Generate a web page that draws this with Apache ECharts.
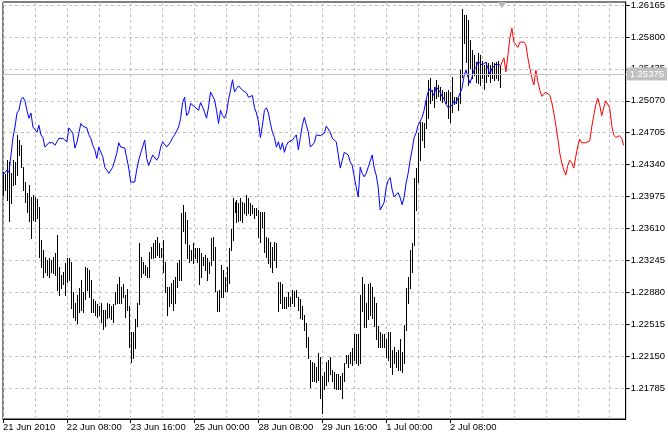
<!DOCTYPE html>
<html><head><meta charset="utf-8">
<script src="https://cdn.jsdelivr.net/npm/echarts@6/dist/echarts.min.js"></script>
<style>html,body{margin:0;padding:0;background:#fff}#c{width:668px;height:437px}</style>
</head><body><div id="c"></div>
<script>
// hourly bars (index = trading hour from 21 Jun 2010 00:00)
const barHigh = [
1.2425,1.2423,1.2439,1.2437,1.2424,1.2439,1.2437,1.2468,1.2462,1.2456,
1.2431,1.2414,1.2402,1.2411,1.2397,1.2399,1.2397,1.2395,1.2385,1.2348,
1.2336,1.2328,1.2325,1.2327,1.2325,1.2328,1.2333,1.2353,1.2317,1.2308,
1.2311,1.2322,1.2327,1.2327,1.2323,1.2288,1.2276,1.2285,1.2293,1.2302,
1.2288,1.2317,1.2316,1.2314,1.2302,1.2280,1.2278,1.2274,1.2272,1.2276,
1.2268,1.2268,1.2276,1.2274,1.2272,1.2274,1.2288,1.2297,1.2306,1.2294,
1.2297,1.2285,1.2292,1.2272,1.2242,1.2242,1.2257,1.2276,1.2344,1.2328,
1.2323,1.2319,1.2317,1.2334,1.2340,1.2344,1.2348,1.2351,1.2344,1.2339,
1.2348,1.2323,1.2294,1.2294,1.2299,1.2302,1.2306,1.2322,1.2325,1.2379,
1.2388,1.2380,1.2371,1.2342,1.2336,1.2344,1.2339,1.2339,1.2339,1.2333,
1.2328,1.2331,1.2327,1.2323,1.2350,1.2351,1.2340,1.2289,1.2291,1.2319,
1.2314,1.2306,1.2317,1.2339,1.2360,1.2396,1.2391,1.2393,1.2390,1.2396,
1.2391,1.2390,1.2399,1.2396,1.2390,1.2388,1.2384,1.2384,1.2382,1.2380,
1.2380,1.2380,1.2351,1.2350,1.2346,1.2340,1.2346,1.2344,1.2300,1.2300,
1.2297,1.2283,1.2283,1.2288,1.2283,1.2291,1.2289,1.2291,1.2283,1.2280,
1.2272,1.2262,1.2253,1.2237,1.2211,1.2208,1.2207,1.2202,1.2219,1.2214,
1.2192,1.2197,1.2208,1.2211,1.2214,1.2199,1.2197,1.2194,1.2194,1.2192,
1.2196,1.2207,1.2216,1.2216,1.2220,1.2224,1.2240,1.2240,1.2240,1.2285,
1.2305,1.2297,1.2276,1.2297,1.2299,1.2294,1.2283,1.2276,1.2249,1.2242,
1.2240,1.2240,1.2234,1.2243,1.2243,1.2222,1.2225,1.2220,1.2222,1.2234,
1.2220,1.2251,1.2293,1.2306,1.2336,1.2344,1.2419,1.2430,1.2470,1.2483,
1.2483,1.2481,1.2508,1.2531,1.2533,1.2519,1.2523,1.2531,1.2525,1.2523,
1.2519,1.2517,1.2517,1.2519,1.2517,1.2534,1.2511,1.2511,1.2510,1.2542,
1.2612,1.2605,1.2605,1.2599,1.2576,1.2565,1.2559,1.2551,1.2562,1.2559,
1.2553,1.2548,1.2551,1.2550,1.2548,1.2551,1.2550,1.2551,1.2553,1.2548
];
const barLow = [
1.2399,1.2405,1.2393,1.2369,1.2390,1.2411,1.2412,1.2422,1.2445,1.2431,
1.2405,1.2391,1.2380,1.2369,1.2350,1.2371,1.2369,1.2373,1.2328,1.2317,
1.2305,1.2311,1.2308,1.2306,1.2311,1.2310,1.2308,1.2291,1.2285,1.2293,
1.2298,1.2285,1.2300,1.2302,1.2270,1.2260,1.2256,1.2253,1.2265,1.2268,
1.2265,1.2280,1.2291,1.2282,1.2265,1.2265,1.2262,1.2260,1.2262,1.2254,
1.2246,1.2249,1.2259,1.2260,1.2257,1.2254,1.2274,1.2276,1.2276,1.2276,
1.2282,1.2260,1.2268,1.2225,1.2208,1.2213,1.2224,1.2249,1.2274,1.2306,
1.2310,1.2308,1.2306,1.2305,1.2327,1.2327,1.2328,1.2331,1.2328,1.2328,
1.2311,1.2288,1.2262,1.2272,1.2276,1.2268,1.2276,1.2294,1.2302,1.2302,
1.2358,1.2344,1.2327,1.2323,1.2325,1.2322,1.2327,1.2323,1.2297,1.2306,
1.2319,1.2314,1.2302,1.2310,1.2319,1.2325,1.2289,1.2266,1.2266,1.2282,
1.2282,1.2289,1.2289,1.2299,1.2336,1.2348,1.2380,1.2368,1.2369,1.2371,
1.2368,1.2379,1.2376,1.2379,1.2376,1.2379,1.2373,1.2376,1.2351,1.2346,
1.2363,1.2334,1.2328,1.2322,1.2317,1.2311,1.2325,1.2317,1.2266,1.2276,
1.2270,1.2270,1.2270,1.2272,1.2272,1.2276,1.2272,1.2282,1.2268,1.2259,
1.2257,1.2245,1.2225,1.2213,1.2180,1.2186,1.2186,1.2185,1.2188,1.2167,
1.2150,1.2177,1.2182,1.2186,1.2194,1.2186,1.2179,1.2177,1.2177,1.2177,
1.2167,1.2186,1.2207,1.2203,1.2207,1.2205,1.2211,1.2207,1.2205,1.2207,
1.2266,1.2248,1.2248,1.2257,1.2262,1.2259,1.2249,1.2234,1.2225,1.2225,
1.2225,1.2225,1.2214,1.2211,1.2203,1.2194,1.2207,1.2203,1.2199,1.2199,
1.2197,1.2207,1.2245,1.2276,1.2293,1.2311,1.2342,1.2382,1.2414,1.2439,
1.2462,1.2454,1.2476,1.2487,1.2504,1.2508,1.2500,1.2510,1.2513,1.2508,
1.2505,1.2508,1.2504,1.2487,1.2483,1.2494,1.2503,1.2504,1.2496,1.2504,
1.2534,1.2573,1.2551,1.2525,1.2544,1.2533,1.2536,1.2529,1.2527,1.2525,
1.2533,1.2521,1.2529,1.2535,1.2529,1.2533,1.2531,1.2533,1.2531,1.2523
];
const blueClose = [
1.2422,1.2420,1.2428,1.2425,1.2445,1.2465,1.2477,1.2493,1.2496,1.2508,
1.2511,1.2507,1.2496,1.2487,1.2493,1.2477,1.2476,1.2471,1.2479,1.2468,
1.2465,1.2454,1.2454,1.2459,1.2460,1.2459,1.2456,1.2460,1.2464,1.2464,
1.2464,1.2462,1.2460,1.2476,1.2473,1.2470,1.2453,1.2459,1.2470,1.2481,
1.2478,1.2477,1.2476,1.2468,1.2464,1.2456,1.2451,1.2441,1.2454,1.2456,
1.2443,1.2431,1.2428,1.2424,1.2424,1.2431,1.2433,1.2447,1.2459,1.2454,
1.2453,1.2453,1.2451,1.2430,1.2414,1.2413,1.2414,1.2428,1.2439,1.2447,
1.2445,1.2462,1.2441,1.2433,1.2431,1.2445,1.2447,1.2439,1.2443,1.2454,
1.2460,1.2459,1.2454,1.2454,1.2460,1.2465,1.2468,1.2470,1.2477,1.2487,
1.2505,1.2511,1.2490,1.2493,1.2504,1.2502,1.2500,1.2499,1.2496,1.2505,
1.2500,1.2494,1.2487,1.2500,1.2517,1.2517,1.2508,1.2496,1.2481,1.2496,
1.2490,1.2487,1.2493,1.2508,1.2519,1.2531,1.2517,1.2521,1.2524,1.2523,
1.2519,1.2517,1.2516,1.2511,1.2511,1.2513,1.2499,1.2493,1.2483,1.2465,
1.2479,1.2496,1.2499,1.2493,1.2481,1.2471,1.2465,1.2454,1.2460,1.2451,
1.2459,1.2448,1.2456,1.2460,1.2460,1.2462,1.2465,1.2468,1.2451,1.2465,
1.2479,1.2488,1.2479,1.2471,1.2454,1.2455,1.2459,1.2468,1.2470,1.2467,
1.2468,1.2470,1.2478,1.2476,1.2471,1.2464,1.2463,1.2460,1.2445,1.2430,
1.2439,1.2448,1.2448,1.2445,1.2437,1.2433,1.2420,1.2408,1.2397,1.2431,
1.2424,1.2420,1.2424,1.2431,1.2433,1.2445,1.2430,1.2422,1.2408,1.2382,
1.2380,1.2391,1.2408,1.2416,1.2419,1.2405,1.2397,1.2396,1.2402,1.2396,
1.2388,1.2397,1.2413,1.2424,1.2439,1.2451,1.2465,1.2470,1.2479,1.2477,
1.2488,1.2496,1.2508,1.2517,1.2521,1.2519,1.2513,1.2523,1.2525,1.2517,
1.2512,1.2509,1.2503,1.2499,1.2500,1.2502,1.2507,1.2504,1.2510,1.2512,
1.2521,1.2535,1.2542,1.2534,1.2527,1.2534,1.2542,1.2545,1.2552,1.2550,
1.2548,1.2549,1.2551,1.2544,1.2537,1.2544,1.2542,1.2549,1.2550,1.2548
];
const redClose = [
1.2545,1.2551,1.2556,1.2540,1.2559,1.2579,1.2590,1.2574,1.2573,1.2568,
1.2574,1.2573,1.2574,1.2571,1.2556,1.2544,1.2533,1.2525,1.2542,1.2529,
1.2519,1.2512,1.2513,1.2517,1.2519,1.2513,1.2505,1.2493,1.2479,1.2464,
1.2447,1.2436,1.2428,1.2422,1.2433,1.2439,1.2436,1.2430,1.2443,1.2455,
1.2463,1.2459,1.2459,1.2459,1.2460,1.2461,1.2477,1.2490,1.2502,1.2510,
1.2502,1.2490,1.2499,1.2507,1.2509,1.2499,1.2479,1.2468,1.2465,1.2465,
1.2467,1.2464,1.2456
];
const redStartHour = 249;
const hoursShown = 312;
const xTickHours = [0, 32, 64, 96, 128, 160, 192, 224];
const xTickLabels = ['21 Jun 2010', '22 Jun 08:00', '23 Jun 16:00', '25 Jun 00:00', '28 Jun 08:00', '29 Jun 16:00', '1 Jul 00:00', '2 Jul 08:00'];
const yTickValues = [1.21785, 1.22150, 1.22515, 1.22880, 1.23245, 1.23610, 1.23975, 1.24340, 1.24705, 1.25070, 1.25435, 1.25800, 1.26165];
const priceMin = 1.214305;
const priceMax = 1.261993;
const currentPrice = 1.25375;

const FONT = 'Liberation Sans';
const chart = echarts.init(document.getElementById('c'), null, {renderer: 'canvas'});
chart.setOption({
  animation: false,
  backgroundColor: '#ffffff',
  grid: {left: 2, right: 41, top: 2, bottom: 18, show: true, borderColor: '#000', borderWidth: 1, backgroundColor: 'transparent'},
  xAxis: [
    {type: 'value', min: 0, max: hoursShown, interval: 16, position: 'bottom',
     axisLine: {show: true, onZero: false, lineStyle: {color: '#000'}},
     axisTick: {show: false}, axisLabel: {show: false},
     splitLine: {show: true, lineStyle: {color: '#c0c0c0', type: [3, 3], width: 1}}},
    {type: 'value', min: 0, max: hoursShown, position: 'bottom',
     axisLine: {show: false, onZero: false}, splitLine: {show: false},
     axisTick: {show: true, customValues: xTickHours, length: 4, lineStyle: {color: '#000'}},
     axisLabel: {show: true, customValues: xTickHours,
       formatter: v => { const k = xTickHours.indexOf(v); return k >= 0 ? xTickLabels[k] : ''; },
       align: 'left', margin: 3, color: '#000', fontFamily: FONT, fontSize: 9.5}}
  ],
  yAxis: [
    {type: 'value', position: 'right', min: priceMin, max: priceMax,
     axisLine: {show: true, onZero: false, lineStyle: {color: '#000'}},
     axisTick: {show: true, customValues: yTickValues, length: 4, lineStyle: {color: '#000'}},
     axisLabel: {show: true, customValues: yTickValues, formatter: v => v.toFixed(5),
       align: 'left', margin: 5, color: '#000', fontFamily: FONT, fontSize: 9.5},
     splitLine: {show: true, lineStyle: {color: '#c0c0c0', type: [3, 3], width: 1}}}
  ],
  series: [
    {type: 'custom', name: 'bars', xAxisIndex: 0, yAxisIndex: 0,
     data: barHigh.map((h, i) => [i, h, barLow[i]]),
     encode: {x: 0, y: [1, 2]},
     renderItem: (params, api) => {
       const p1 = api.coord([api.value(0), api.value(1)]);
       const p2 = api.coord([api.value(0), api.value(2)]);
       const x = Math.round(p1[0]) + 0.5;
       return {type: 'line', shape: {x1: x, y1: Math.round(p1[1]), x2: x, y2: Math.round(p2[1]) + 1},
               style: {stroke: '#000', lineWidth: 1}};
     },
     z: 2},
    {type: 'line', name: 'blue', xAxisIndex: 0, yAxisIndex: 0,
     data: blueClose.map((v, i) => [i, v]),
     showSymbol: false, symbol: 'none',
     lineStyle: {color: '#0000ff', width: 1}, z: 3},
    {type: 'line', name: 'red', xAxisIndex: 0, yAxisIndex: 0,
     data: redClose.map((v, i) => [redStartHour + i, v]),
     showSymbol: false, symbol: 'none',
     lineStyle: {color: '#ff0000', width: 1}, z: 3,
     markLine: {silent: true, symbol: ['none', 'none'], animation: false, precision: 5,
       lineStyle: {color: '#c0c0c0', type: 'solid', width: 1},
       label: {show: true, position: 'end', distance: 1, formatter: currentPrice.toFixed(5),
         backgroundColor: '#c0c0c0', color: '#ffffff', padding: [2, 3, 1, 3], fontFamily: FONT, fontSize: 9.5},
       data: [[{coord: [0, currentPrice]}, {coord: [hoursShown, currentPrice]}]]},
     markPoint: {silent: true, animation: false, label: {show: false},
       data: [{coord: [redStartHour + 1, priceMax], symbol: 'triangle', symbolRotate: 180,
               symbolSize: [9, 6], symbolOffset: [0, 3], itemStyle: {color: '#b8b8b8'}}]}}
  ]
});
</script>
</body></html>
